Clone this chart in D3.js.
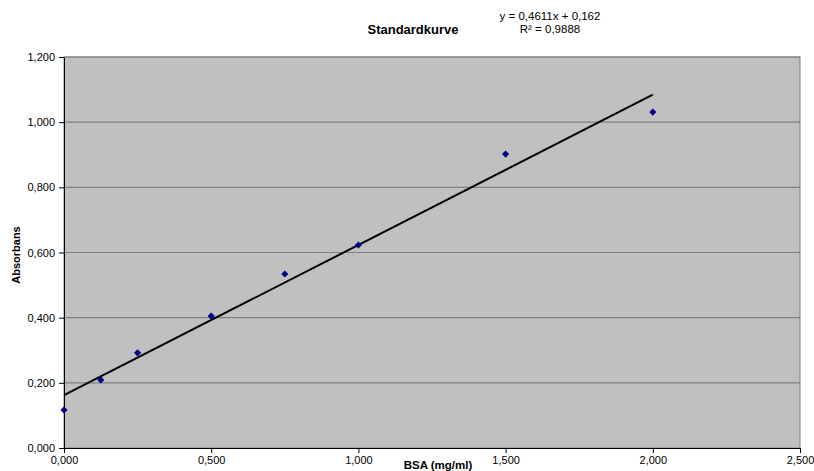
<!DOCTYPE html>
<html><head><meta charset="utf-8">
<script src="https://cdn.jsdelivr.net/npm/d3@7"></script>
<style>body{margin:0;background:#fff;} text{font-family:"Liberation Sans",Arial,sans-serif;}</style>
</head><body>
<svg id="c" width="814" height="471"></svg>
<script>
const xValues = [0, 0.125, 0.25, 0.5, 0.75, 1.0, 1.5, 2.0];
const yValues = [0.117, 0.209, 0.292, 0.405, 0.534, 0.623, 0.902, 1.031];
const xTicks = [0, 0.5, 1.0, 1.5, 2.0, 2.5];
const yTicks = [0, 0.2, 0.4, 0.6, 0.8, 1.0, 1.2];
const slope = 0.4611, intercept = 0.162;

const svg = d3.select("#c");
const m = {l: 64, r: 14, t: 57, b: 23};
const W = 814, H = 471;
const x = d3.scaleLinear().domain([0, 2.5]).range([m.l, W - m.r]);
const y = d3.scaleLinear().domain([0, 1.2]).range([H - m.b, m.t]);
const fmt = d => d3.format(".3f")(d).replace(".", ",");

svg.append("rect").attr("x", x(0)).attr("y", y(1.2)).attr("width", x(2.5) - x(0)).attr("height", y(0) - y(1.2))
  .attr("fill", "#c0c0c0").attr("stroke", "#808080").attr("stroke-width", 1);

svg.append("g").selectAll("line").data(yTicks.slice(1)).join("line")
  .attr("x1", x(0)).attr("x2", x(2.5)).attr("y1", d => y(d)).attr("y2", d => y(d))
  .attr("stroke", "#808080").attr("stroke-width", 1.2);

const ya = svg.append("g").attr("transform", `translate(${x(0)},0)`)
  .call(d3.axisLeft(y).tickValues(yTicks).tickFormat(fmt).tickSize(5).tickSizeOuter(0));
const xa = svg.append("g").attr("transform", `translate(0,${y(0)})`)
  .call(d3.axisBottom(x).tickValues(xTicks).tickFormat(fmt).tickSize(5).tickSizeOuter(0));
[ya, xa].forEach(a => {
  a.select(".domain").attr("stroke", "#000");
  a.selectAll(".tick line").attr("stroke", "#000");
  a.selectAll("text").attr("font-size", 11).attr("fill", "#000").style("font-family", '"Liberation Sans",Arial,sans-serif');
});
ya.selectAll("text").attr("x", -9);
xa.selectAll("text").attr("y", 8);

svg.append("line").attr("x1", x(0)).attr("x2", x(2.0))
  .attr("y1", y(intercept)).attr("y2", y(slope * 2.0 + intercept))
  .attr("stroke", "#000").attr("stroke-width", 2);

const diamond = "M0,-3.6L3.6,0L0,3.6L-3.6,0Z";
svg.append("g").selectAll("path").data(xValues).join("path")
  .attr("d", diamond).attr("transform", (d, i) => `translate(${x(d)},${y(yValues[i])})`)
  .attr("fill", "#00008b");

svg.append("text").attr("x", 413).attr("y", 34).attr("text-anchor", "middle")
  .attr("font-size", 13).attr("font-weight", "bold").text("Standardkurve");
svg.append("text").attr("x", 550).attr("y", 20).attr("text-anchor", "middle")
  .attr("font-size", 11.5).text("y = 0,4611x + 0,162");
svg.append("text").attr("x", 550).attr("y", 33).attr("text-anchor", "middle")
  .attr("font-size", 11.5).text("R² = 0,9888");
svg.append("text").attr("x", 438).attr("y", 469).attr("text-anchor", "middle")
  .attr("font-size", 11.5).attr("font-weight", "bold").text("BSA (mg/ml)");
svg.append("text").attr("transform", "translate(20,255) rotate(-90)").attr("text-anchor", "middle")
  .attr("font-size", 11).attr("font-weight", "bold").text("Absorbans");
</script>
</body></html>
